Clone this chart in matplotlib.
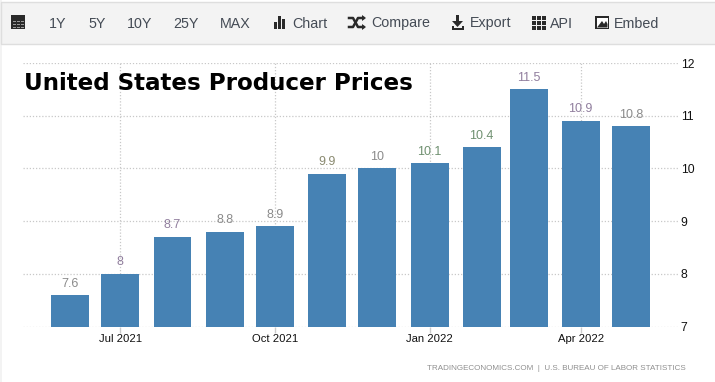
import matplotlib
matplotlib.use("Agg")
import matplotlib.pyplot as plt
import matplotlib.dates as mdates
from matplotlib.patches import Rectangle, Polygon
from datetime import datetime

W, H = 715, 382
months = ["2021-06-01", "2021-07-01", "2021-08-01", "2021-09-01", "2021-10-01", "2021-11-01",
          "2021-12-01", "2022-01-01", "2022-02-01", "2022-03-01", "2022-04-01", "2022-05-01"]
values = [7.6, 8, 8.7, 8.8, 8.9, 9.9, 10, 10.1, 10.4, 11.5, 10.9, 10.8]
labels = ["7.6", "8", "8.7", "8.8", "8.9", "9.9", "10", "10.1", "10.4", "11.5", "10.9", "10.8"]
label_colors = ["#8b8b8b", "#917f9e", "#917f9e", "#8b8b8b", "#8b8b8b", "#8a8a70", "#8b8b8b",
                "#6f9070", "#6f9070", "#917f9e", "#917f9e", "#8b8b8b"]
x_ticks = ["2021-07-01", "2021-10-01", "2022-01-01", "2022-04-01"]
x_tick_labels = ["Jul 2021", "Oct 2021", "Jan 2022", "Apr 2022"]
y_ticks = [7, 8, 9, 10, 11, 12]
toolbar_items = [("1Y", 49), ("5Y", 88), ("10Y", 127), ("25Y", 173), ("MAX", 220),
                 ("Chart", 292), ("Compare", 371), ("Export", 470), ("API", 550), ("Embed", 614)]
title = "United States Producer Prices"
source = "TRADINGECONOMICS.COM  |  U.S. BUREAU OF LABOR STATISTICS"

plt.rcParams["font.family"] = ["Liberation Sans", "DejaVu Sans"]
fig = plt.figure(figsize=(W / 100, H / 100), dpi=100, facecolor="white")

# pixel overlay for the page chrome
bg = fig.add_axes([0, 0, 1, 1], zorder=0)
bg.set_xlim(0, W); bg.set_ylim(H, 0); bg.axis("off")
bg.add_patch(Rectangle((0, 0), 2, H, fc="#f3f3f3", ec="none"))
bg.add_patch(Rectangle((1, 2), W, 41.5, fc="#f3f3f3", ec="#dedede", lw=1))
for t, px in toolbar_items:
    bg.text(px, 23.5, t, fontsize=10.3, color="#444b55", va="center", ha="left")
ic = "#2a2a2a"
# calendar
bg.add_patch(Rectangle((11, 15), 14, 14, fc=ic, ec="none"))
for yy in (21, 24, 27):
    for xx in (12.5, 16.5, 20.5):
        bg.add_patch(Rectangle((xx, yy), 3, 1.2, fc="#999999", ec="none"))
# chart
for xx, hh in ((274, 7), (278, 13), (282, 10)):
    bg.add_patch(Rectangle((xx, 29 - hh), 3, hh, fc=ic, ec="none"))
# shuffle
bg.plot([349, 353, 358, 363], [18, 18, 27, 27], color=ic, lw=1.8)
bg.plot([349, 353, 358, 363], [27, 27, 18, 18], color=ic, lw=1.8)
bg.add_patch(Polygon([(362, 15), (366, 18), (362, 21)], fc=ic))
bg.add_patch(Polygon([(362, 24), (366, 27), (362, 30)], fc=ic))
# export
bg.add_patch(Rectangle((456, 15), 3, 7, fc=ic))
bg.add_patch(Polygon([(452, 21), (463, 21), (457.5, 27)], fc=ic))
bg.add_patch(Polygon([(452, 26), (452, 29.5), (464, 29.5), (464, 26), (462, 26), (462, 28), (454, 28), (454, 26)], fc=ic))
# API grid
for yy in (16, 21, 26):
    for xx in (532, 537, 542):
        bg.add_patch(Rectangle((xx, yy), 3.6, 3.6, fc=ic))
# embed
bg.add_patch(Rectangle((595, 16), 14, 13, fc=ic))
bg.add_patch(Rectangle((596.5, 17.5), 11, 10, fc="white"))
bg.add_patch(Polygon([(597, 27.5), (602, 21), (604, 24), (606, 21), (607.5, 24), (607.5, 27.5)], fc=ic))

# chart
L, R, T, B = 23, 678, 63, 326.7
ax = fig.add_axes([L / W, 1 - B / H, (R - L) / W, (B - T) / H], zorder=1)
ax.patch.set_alpha(0)
dates = [datetime.fromisoformat(m) for m in months]
ax.bar(dates, values, width=22.6, bottom=0, color="#4682b4", zorder=3)
ax.set_ylim(7, 12)
ax.set_xlim(mdates.date2num(datetime(2021, 5, 4)), mdates.date2num(datetime(2022, 5, 28)) + 0.9)
ax.set_xticks([datetime.fromisoformat(d) for d in x_ticks])
ax.set_xticklabels(x_tick_labels)
ax.set_yticks(y_ticks)
ax.yaxis.tick_right()
ax.tick_params(axis="x", length=4, width=1, color="#cccccc", labelsize=8.1, labelcolor="#111111", pad=1.5)
ax.tick_params(axis="y", length=0, labelsize=8.7, labelcolor="#111111", pad=2)
for s in ax.spines.values():
    s.set_visible(False)
ax.grid(True, color="#c8c8c8", linestyle=(0, (1, 1.5)), linewidth=0.9, zorder=1)
ax.set_axisbelow(True)
for d, v, t, c in zip(dates, values, labels, label_colors):
    ax.annotate(t, (d, v), xytext=(0, 4), textcoords="offset points", ha="center", va="bottom",
                fontsize=9, color=c, zorder=4)

fig.text(24.5 / W, 1 - 84 / H, title, family="DejaVu Sans", fontsize=16.55, fontweight="bold",
         color="black", va="center", ha="left", zorder=5)
fig.text(686 / W, 1 - 369 / H, source, fontsize=5.75, color="#8f8f8f", va="center", ha="right", zorder=5)
fig.savefig("out.png", dpi=100)
